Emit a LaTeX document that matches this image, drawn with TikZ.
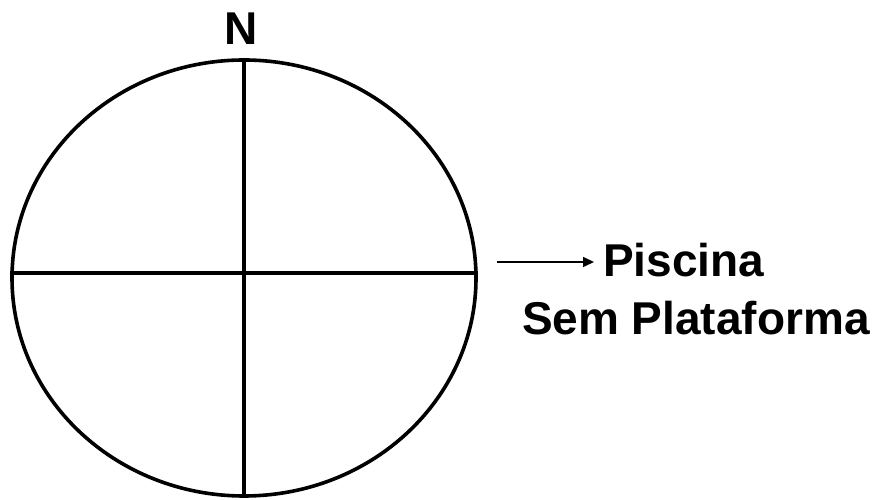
\documentclass[tikz,border=0pt]{standalone}
\usepackage{fontspec}
\setmainfont{Liberation Sans}
\usetikzlibrary{shapes.geometric,arrows.meta}
\begin{document}
\begin{tikzpicture}[x=1pt,y=1pt,
  thick line/.style={line width=3.6pt},
  lbl/.style={font=\fontsize{46}{55}\selectfont\bfseries, inner sep=0pt, outer sep=0pt}]
\useasboundingbox (0,0) rectangle (878,500);
\node[ellipse, draw, thick line, minimum width=464pt, minimum height=436pt, inner sep=0pt] (c) at (244,222) {};
\draw[thick line] (c.north) -- (c.south);
\draw[thick line] ([yshift=5pt]c.west) -- ([yshift=5pt]c.east);
\node[lbl, anchor=base] (n) at (241,455) {N};
\node[lbl, anchor=base west] (p) at (603,223) {Piscina};
\node[lbl, anchor=base west] (s) at (522,165) {Sem Plataforma};
\coordinate (a) at (497,238);
\draw[line width=1.5pt, -{Triangle[length=11pt,width=10pt]}] (a) -- ([xshift=-9pt]p.west |- a);
\end{tikzpicture}
\end{document}
